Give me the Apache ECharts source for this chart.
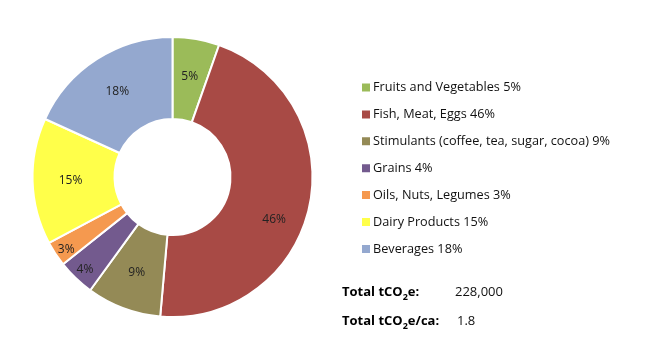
<!DOCTYPE html>
<html><head><meta charset="utf-8">
<script src="https://cdn.jsdelivr.net/npm/echarts@6/dist/echarts.min.js"></script>
<style>html,body{margin:0;padding:0;background:#fff}#c{width:650px;height:358px}</style>
</head><body><div id="c"></div>
<script>
const categories = ["Fruits and Vegetables","Fish, Meat, Eggs","Stimulants (coffee, tea, sugar, cocoa)","Grains","Oils, Nuts, Legumes","Dairy Products","Beverages"];
const values = [5.4,46.0,8.6,4.3,2.9,14.6,18.2];
const colors = ["#9BBB59","#A84A45","#948A56","#735A8E","#F5994F","#FFFF4A","#94A8CF"];
const totalLabels = ["e:","e/ca:"];
const totalValues = ["228,000","1.8"];

const font = "'Open Sans', 'Noto Sans', sans-serif";
const labelOffsets = {1:[2,21], 3:[-17,19], 4:[-21,17]};
const chart = echarts.init(document.getElementById('c'));
chart.setOption({
  animation:false,
  color: colors,
  legend:{
    orient:'vertical', left:355, top:75, itemWidth:10, itemHeight:10, itemGap:11.9,
    icon:'rect',
    textStyle:{fontFamily:font, fontSize:12.7, lineHeight:15, color:'#111', padding:[0,0,0,-3]},
    formatter: n => n + ' ' + Math.round(values[categories.indexOf(n)]) + '%',
    selectedMode:false
  },
  series:[{
    type:'pie', center:[172.5,177], radius:[58,140], startAngle:90, clockwise:true,
    itemStyle:{borderColor:'#fff', borderWidth:2},
    label:{position:'inside', formatter:p => Math.round(p.value) + '%', fontFamily:font, fontSize:12, color:'#222'},
    labelLine:{show:false},
    emphasis:{disabled:true},
    data: categories.map((c,i)=>({name:c, value:values[i], label: labelOffsets[i] ? {offset:labelOffsets[i]} : undefined}))
  }],
  graphic: totalLabels.flatMap((t,i)=>[
    {type:'text', left:342, top:286+i*29, style:{
      text:'{b|Total tCO}{s|2}{b|'+t+'}',
      rich:{
        b:{fontFamily:font, fontWeight:'bold', fontSize:13, lineHeight:19, color:'#111'},
        s:{fontFamily:font, fontWeight:'bold', fontSize:9, lineHeight:19, verticalAlign:'bottom', color:'#111'}
      }}},
    {type:'text', left:[455,457][i], top:286+i*29, style:{text:totalValues[i], font:"13px "+font, fill:'#111'}}
  ])
});
</script></body></html>
